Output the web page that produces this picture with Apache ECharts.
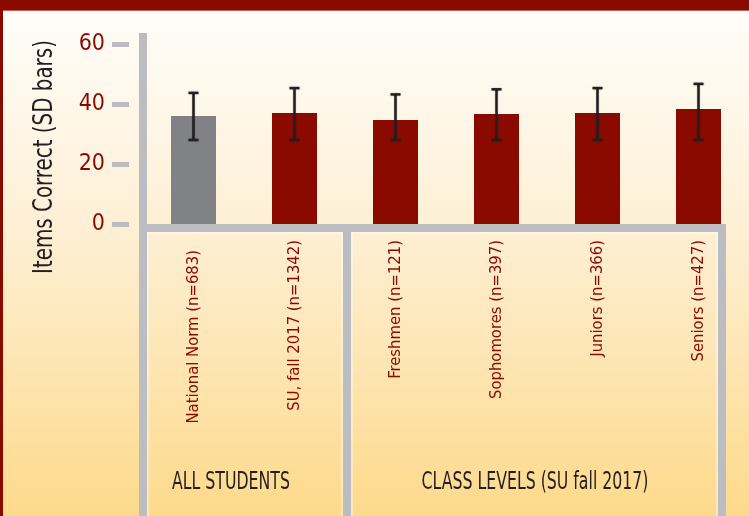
<!DOCTYPE html>
<html>
<head>
<meta charset="utf-8">
<script src="https://cdn.jsdelivr.net/npm/echarts@6/dist/echarts.min.js"></script>
<style>
html,body{margin:0;padding:0;}
#c{width:749px;height:516px;}
</style>
</head>
<body>
<div id="c"></div>
<script>
const categories = ['National Norm (n=683)', 'SU, fall 2017 (n=1342)', 'Freshmen (n=121)', 'Sophomores (n=397)', 'Juniors (n=366)', 'Seniors (n=427)'];
const means = [36, 37, 34.7, 36.7, 37, 38.3];
const sdLow = [28, 28, 28, 28, 28, 28];
const sdHigh = [43.7, 45.3, 43.2, 44.9, 45.3, 46.7];
const barColors = ['#818285', '#8b0a00', '#8b0a00', '#8b0a00', '#8b0a00', '#8b0a00'];
const yTicks = [0, 20, 40, 60];
const yTitle = 'Items Correct (SD bars)';
const groupLabels = ['ALL STUDENTS', 'CLASS LEVELS (SU fall 2017)'];

const FONT = '"Liberation Sans Narrow", "DejaVu Sans Condensed", "Roboto Condensed", sans-serif';
const RED = '#8b0a00';
const GREY = '#bcbdc1';

const chart = echarts.init(document.getElementById('c'), null, {renderer: 'canvas'});

const frame = [
  {x: 139, y: 33, w: 8, h: 483},
  {x: 139, y: 224, w: 587, h: 8},
  {x: 343, y: 232, w: 8, h: 284},
  {x: 718, y: 224, w: 8, h: 292}
];

const option = {
  backgroundColor: {
    type: 'linear', x: 0, y: 0, x2: 0, y2: 1,
    colorStops: [
      {offset: 0, color: '#fffefb'},
      {offset: 0.45, color: '#feefd4'},
      {offset: 1, color: '#fdda8b'}
    ]
  },
  animation: false,
  grid: {left: 143, top: 44, width: 607, height: 180, containLabel: false},
  xAxis: {
    type: 'category',
    data: categories.map((c, i) => i === 0 ? {value: c, textStyle: {padding: [0, 10, 0, 0]}} : c),
    axisLine: {show: false},
    axisTick: {show: false},
    axisLabel: {
      rotate: 90, margin: 16, color: RED, fontSize: 16.5, fontFamily: FONT, interval: 0
    },
    splitLine: {show: false}
  },
  yAxis: {
    type: 'value', min: yTicks[0], max: yTicks[yTicks.length - 1], interval: 20,
    offset: 14,
    axisLine: {show: false},
    axisTick: {show: true, length: 17, lineStyle: {color: GREY, width: 5}},
    axisLabel: {color: RED, fontSize: 23, fontFamily: FONT, margin: 24},
    splitLine: {show: false}
  },
  series: [
    {
      type: 'bar',
      barWidth: 45,
      data: means.map((v, i) => ({value: v, itemStyle: {color: barColors[i]}})),
      z: 2
    },
    {
      type: 'custom',
      z: 3,
      data: categories.map((c, i) => [i, sdLow[i], sdHigh[i]]),
      renderItem: function (params, api) {
        const lo = api.coord([api.value(0), api.value(1)]);
        const hi = api.coord([api.value(0), api.value(2)]);
        const hw = 5;
        const style = {stroke: '#231f20', lineWidth: 2.5, shadowColor: 'rgba(0,0,0,0.35)', shadowBlur: 1.5};
        return {
          type: 'group',
          children: [
            {type: 'line', shape: {x1: lo[0], y1: lo[1], x2: hi[0], y2: hi[1]}, style: style},
            {type: 'line', shape: {x1: hi[0] - hw, y1: hi[1], x2: hi[0] + hw, y2: hi[1]}, style: style},
            {type: 'line', shape: {x1: lo[0] - hw, y1: lo[1], x2: lo[0] + hw, y2: lo[1]}, style: style}
          ]
        };
      }
    }
  ],
  graphic: [
    {type: 'rect', left: 0, top: 0, shape: {width: 749, height: 10}, style: {fill: '#8a0a00'}, z: 10},
    {type: 'rect', left: 0, top: 10, shape: {width: 749, height: 1}, style: {fill: '#c7615a'}, z: 10},
    {type: 'rect', left: 0, top: 0, shape: {width: 3, height: 516}, style: {fill: '#8a0a00'}, z: 10},
    {type: 'rect', shape: {x: 148, y: 233, width: 194, height: 290}, style: {fill: 'none', stroke: 'rgba(255,255,255,0.5)', lineWidth: 1.5}, z: 1},
    {type: 'rect', shape: {x: 352, y: 233, width: 365, height: 290}, style: {fill: 'none', stroke: 'rgba(255,255,255,0.5)', lineWidth: 1.5}, z: 1}
  ].concat(frame.map(f => ({
    type: 'rect', shape: {x: f.x, y: f.y, width: f.w, height: f.h}, style: {fill: GREY}, z: 5
  }))).concat([
    {type: 'text', x: 45, y: 157, rotation: Math.PI / 2, scaleX: 0.85,
      style: {text: yTitle, fill: '#231f20', font: '26px ' + FONT, textAlign: 'center', textVerticalAlign: 'middle'}, z: 6},
    {type: 'text', x: 231, y: 482, scaleX: 0.7,
      style: {text: groupLabels[0], fill: '#231f20', font: '25px ' + FONT, textAlign: 'center', textVerticalAlign: 'middle'}, z: 6},
    {type: 'text', x: 535, y: 482, scaleX: 0.7,
      style: {text: groupLabels[1], fill: '#231f20', font: '25px ' + FONT, textAlign: 'center', textVerticalAlign: 'middle'}, z: 6}
  ])
};
chart.setOption(option);
</script>
</body>
</html>
